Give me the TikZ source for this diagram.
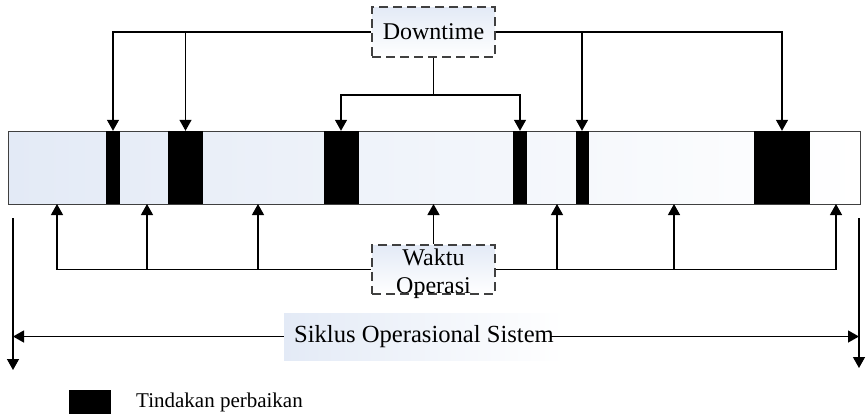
\documentclass[tikz,border=0pt]{standalone}
\usepackage{fontspec}
\setmainfont{Liberation Serif}
\usetikzlibrary{arrows.meta}
\definecolor{paleblue}{HTML}{E3EAF6}
\definecolor{edgegray}{HTML}{404040}
\tikzset{
  conn/.style={line width=1.3pt, black},
  arr/.style={conn, -{Triangle[width=12pt,length=11pt]}},
  tag/.style={draw=edgegray, line width=1.3pt, dash pattern=on 9pt off 5pt,
    left color=paleblue, right color=white, shading angle=0,
    minimum width=123pt, inner sep=0pt,
    font=\fontsize{24}{25}\selectfont, align=center},
  repair/.style={fill=black, draw=none, inner sep=0pt, minimum height=73pt},
}
\begin{document}
\begin{tikzpicture}[x=1pt,y=-1pt]
\useasboundingbox (0,0) rectangle (868,416);

% operating timeline
\node[draw=edgegray, line width=1pt, left color=paleblue, right color=white,
      minimum width=852pt, minimum height=73pt, inner sep=0pt] (bar) at (434,167.5) {};

% repair periods
\node[repair, minimum width=14pt] (r1) at (113,167.5) {};
\node[repair, minimum width=35pt] (r2) at (185.5,167.5) {};
\node[repair, minimum width=35pt] (r3) at (341,167.5) {};
\node[repair, minimum width=14pt] (r4) at (520,167.5) {};
\node[repair, minimum width=13pt] (r5) at (582,167.5) {};
\node[repair, minimum width=56pt] (r6) at (782,167.5) {};

% downtime label and its connectors
\node[tag, minimum height=50pt] (dt) at (433.5,32) {Downtime};
\draw[arr] (dt.west) -| (r1.north);
\draw[arr] (r2.north |- dt.west) -- (r2.north);
\draw[arr] (dt.east) -| (r6.north);
\draw[arr] (r5.north |- dt.east) -- (r5.north);
\coordinate (fork) at (433.5,95);
\draw[conn] (dt.south) -- (fork);
\draw[arr] (fork) -| (r3.north);
\draw[arr] (fork) -| (r4.north);

% operating time label and its connectors
\node[tag, minimum height=49pt] (wk) at (433.5,269.5) {};
\node[align=center, inner sep=0pt, font=\fontsize{24}{25}\selectfont] (wkt) at (433.5,273.5) {Waktu\\[3pt]Operasi};
\coordinate (u1) at (57,204);
\coordinate (u2) at (147,204);
\coordinate (u3) at (258,204);
\coordinate (u4) at (433.5,204);
\coordinate (u5) at (557,204);
\coordinate (u6) at (674,204);
\coordinate (u7) at (836,204);
\draw[arr] (wk.west) -| (u1);
\draw[arr] (u2 |- wk.west) -- (u2);
\draw[arr] (u3 |- wk.west) -- (u3);
\draw[arr] (wk.north) -- (u4);
\draw[arr] (wk.east) -| (u7);
\draw[arr] (u5 |- wk.east) -- (u5);
\draw[arr] (u6 |- wk.east) -- (u6);

% system operating cycle
\coordinate (lt) at (13,218);
\coordinate (lb) at (13,370);
\coordinate (rt) at (859,218);
\coordinate (rb) at (859,368);
\draw[arr] (lt) -- (lb);
\draw[arr] (rt) -- (rb);
\node[left color=paleblue, right color=white, inner sep=0pt,
      minimum width=280pt, minimum height=47pt,
      font=\fontsize{24.6}{26}\selectfont] (cyc) at (424,336.5) {Siklus Operasional Sistem};
\draw[arr] (cyc.west) -- (cyc.west -| lt);
\draw[arr] ([xshift=-14pt]cyc.east) -- (cyc.east -| rt);

% legend
\node[fill=black, minimum width=42pt, minimum height=24pt, inner sep=0pt] (key) at (90,402) {};
\node[anchor=west, inner sep=0pt, font=\fontsize{21}{23}\selectfont] (keytext) at (136,402) {Tindakan perbaikan};
\end{tikzpicture}
\end{document}
